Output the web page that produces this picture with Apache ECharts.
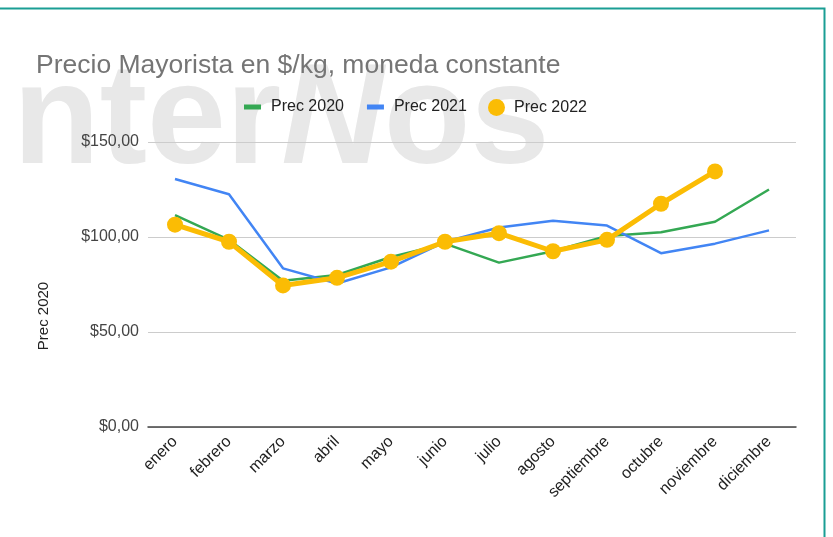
<!DOCTYPE html>
<html>
<head>
<meta charset="utf-8">
<script src="https://cdn.jsdelivr.net/npm/echarts@6/dist/echarts.min.js"></script>
<style>
  html, body { margin: 0; padding: 0; background: #fff; }
  #chart { width: 833px; height: 537px; }
</style>
</head>
<body>
<div id="chart"></div>
<script>
const meses = ['enero', 'febrero', 'marzo', 'abril', 'mayo', 'junio', 'julio',
  'agosto', 'septiembre', 'octubre', 'noviembre', 'diciembre'];

const prec2020 = [111.5, 98.5, 77, 80, 89.5, 96.5, 86.5, 92.5, 100.5, 102.5, 108, 125];
const prec2021 = [130.5, 122.5, 83.5, 75.5, 84, 97.5, 105, 108.5, 106, 91.5, 96.5, 103.5];
const prec2022 = [106.5, 97.5, 74.5, 78.5, 87, 97.5, 102, 92.5, 98.5, 117.5, 134.5, null];

const yTicks = [0, 50, 100, 150];

const fontBase = '"Liberation Sans", Arial, sans-serif';
const verde = '#34a853';
const azul = '#4285f4';
const amarillo = '#fbbc04';
const marcaAgua = '#e8e8e8';

const chart = echarts.init(document.getElementById('chart'));

const fmt = v => '$' + v.toFixed(2).replace('.', ',');

chart.setOption({
  animation: false,
  backgroundColor: '#fff',
  textStyle: { fontFamily: fontBase },
  title: {
    text: 'Precio Mayorista en $/kg, moneda constante',
    left: 31,
    top: 47,
    textStyle: { fontSize: 26.5, fontWeight: 'normal', color: '#757575', fontFamily: fontBase }
  },
  legend: [
    {
      data: [
        { name: 'Prec 2020', icon: 'rect' },
        { name: 'Prec 2021', icon: 'rect' }
      ],
      left: 239,
      top: 94,
      itemWidth: 17,
      itemHeight: 5,
      itemGap: 23,
      textStyle: { fontSize: 16, color: '#222', padding: [0, 0, 0, 5] }
    },
    {
      data: [{ name: 'Prec 2022', icon: 'circle' }],
      left: 483,
      top: 94,
      itemWidth: 17,
      itemHeight: 17,
      textStyle: { fontSize: 16, color: '#222', padding: [0, 0, 0, 4] }
    }
  ],
  graphic: [
    {
      // marca de agua "InterNos", recortada por el borde izquierdo
      type: 'text',
      z: -10,
      silent: true,
      left: 13,
      top: 53,
      style: {
        text: '{a|nter}{b|N}{a|os}',
        rich: {
          a: { fontSize: 142, fontWeight: 'bold', fontFamily: fontBase, fill: marcaAgua },
          b: { fontSize: 142, fontWeight: 'bold', fontStyle: 'italic', fontFamily: fontBase, fill: marcaAgua }
        }
      }
    },
    {
      type: 'text',
      silent: true,
      x: 44,
      y: 316,
      rotation: Math.PI / 2,
      style: {
        text: 'Prec 2020',
        fontSize: 15,
        fontFamily: fontBase,
        fill: '#222',
        align: 'center',
        verticalAlign: 'middle'
      }
    },
    {
      type: 'polyline',
      silent: true,
      shape: { points: [[0, 8.5], [824.5, 8.5], [824.5, 537]] },
      style: { stroke: '#1a9e94', lineWidth: 2, fill: null }
    }
  ],
  grid: { left: 148, right: 37, top: 142, bottom: 110 },
  xAxis: {
    type: 'category',
    data: meses,
    boundaryGap: true,
    axisLine: { lineStyle: { color: '#444', width: 1.5 } },
    axisTick: { show: false },
    axisLabel: { rotate: 45, fontSize: 16, color: '#222', margin: 12, interval: 0 }
  },
  yAxis: {
    type: 'value',
    min: yTicks[0],
    max: yTicks[yTicks.length - 1],
    interval: 50,
    axisLine: { show: false },
    axisTick: { show: false },
    splitLine: { lineStyle: { color: '#cccccc', width: 1 } },
    axisLabel: { fontSize: 16, color: '#444', margin: 9, formatter: fmt }
  },
  series: [
    {
      name: 'Prec 2020',
      type: 'line',
      data: prec2020,
      color: verde,
      symbol: 'none',
      lineStyle: { width: 2.5, color: verde },
      z: 2
    },
    {
      name: 'Prec 2021',
      type: 'line',
      data: prec2021,
      color: azul,
      symbol: 'none',
      lineStyle: { width: 2.5, color: azul },
      z: 3
    },
    {
      name: 'Prec 2022',
      type: 'line',
      data: prec2022,
      color: amarillo,
      symbol: 'circle',
      symbolSize: 16,
      itemStyle: { color: amarillo },
      lineStyle: { width: 5, color: amarillo },
      z: 4
    }
  ]
});

window.addEventListener('resize', () => chart.resize());
</script>
</body>
</html>
